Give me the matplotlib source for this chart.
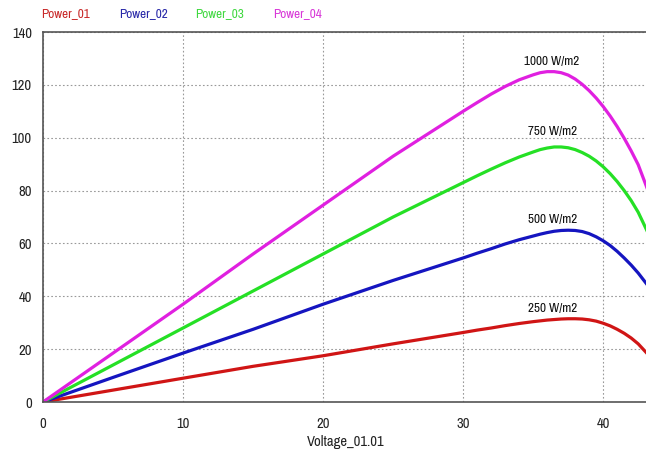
import matplotlib
matplotlib.use("Agg")
from matplotlib import pyplot as plt
from matplotlib import font_manager

# pick a condensed sans if there is one (original looks like Arial Narrow)
fam = "DejaVu Sans"
stretch = "normal"
for f in font_manager.fontManager.ttflist:
	if "Narrow" in f.name:
		fam = f.name
		break
	if f.name == "DejaVu Sans" and f.stretch == "condensed":
		stretch = "condensed"
plt.rcParams['font.family'] = [fam, 'DejaVu Sans']
plt.rcParams['font.stretch'] = stretch

# data
voltage = [0, 5, 10, 15, 20, 25, 30, 31, 32, 33, 34, 35, 35.5, 36, 36.5, 37, 37.5, 38, 38.5,
	39, 39.5, 40, 40.5, 41, 41.5, 42, 42.5, 43.2]
power_01 = [0, 4.5, 9, 13.5, 17.5, 22, 26.3, 27.2, 28, 28.9, 29.7, 30.4, 30.7, 31, 31.2, 31.4, 31.5,
	31.5, 31.4, 31.1, 30.6, 29.8, 28.8, 27.5, 26, 24.2, 22, 18]
power_02 = [0, 9.3, 18.5, 27.5, 37, 46, 54.5, 56.3, 58, 59.8, 61.4, 62.8, 63.5, 64.1, 64.6, 64.9, 65,
	64.9, 64.5, 63.7, 62.5, 61, 59.2, 57, 54.5, 51.8, 48.8, 44]
power_03 = [0, 14, 28, 42, 56, 70, 83, 85.6, 88.1, 90.5, 92.7, 94.6, 95.5, 96.1, 96.5, 96.5, 96.2,
	95.5, 94.4, 93, 91.2, 89, 86.4, 83.4, 80, 76.2, 71.8, 64]
power_04 = [0, 18.5, 37, 56, 74.5, 93, 110, 113.3, 116.5, 119.4, 121.9, 123.8, 124.6, 125, 125, 124.6,
	123.7, 122.2, 120.2, 117.8, 115, 111.8, 108.2, 104.2, 99.8, 95, 89.8, 80]

names_series = ["Power_01", "Power_02", "Power_03", "Power_04"]
series = [power_01, power_02, power_03, power_04]
irradiance = ["250 W/m2", "500 W/m2", "750 W/m2", "1000 W/m2"]
label_pos = [(36.4, 35.5), (36.4, 69.2), (36.4, 102.2), (36.3, 129)]

line_colors = ["#d01515", "#1515c0", "#25e025", "#e020e0"]
text_colors = ["#c82828", "#2828a8", "#40d840", "#d838d8"]

fig = plt.figure(figsize=(6.46, 4.5), dpi=100)
ax = fig.add_axes([43/646, 1-402/450, 605/646, 370/450])

for y, c in zip(series, line_colors):
	ax.plot(voltage, y, color=c, linewidth=2.3, solid_joinstyle='round')

for txt, (xv, yv) in zip(irradiance, label_pos):
	ax.text(xv, yv, txt, ha='center', va='center', fontsize=9.5, color='#111111')

ax.set_xlim(0, 43.2)
ax.set_ylim(0, 140)
ax.set_xticks([0, 10, 20, 30, 40])
ax.set_yticks(range(0, 141, 20))
ax.grid(True, linestyle=(0, (1.5, 2)), color='#999999', linewidth=0.8)
ax.tick_params(axis='x', length=0, labelsize=10.5, pad=11, colors='#222222')
ax.tick_params(axis='y', length=0, labelsize=10.5, pad=8, colors='#222222')
for s in ['top', 'left', 'bottom']:
	ax.spines[s].set_color('#555555')
	ax.spines[s].set_linewidth(1.2)
ax.spines['right'].set_visible(False)
ax.set_xlabel('Voltage_01.01', fontsize=10.5, color='#222222', labelpad=3)

# legend labels across the top
x0 = 66/646
for n, c in zip(names_series, text_colors):
	fig.text(x0, 1-14/450, n, color=c, fontsize=9.5, ha='center', va='center')
	x0 += 77/646

fig.savefig('out.png', dpi=100, facecolor='white')
